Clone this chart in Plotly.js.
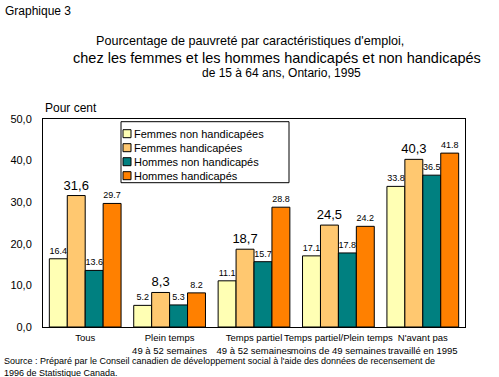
<!DOCTYPE html>
<html>
<head>
<meta charset="utf-8">
<script src="https://cdn.plot.ly/plotly-3.0.1.min.js"></script>
<style>body{margin:0;background:#fff}#chart{width:499px;height:377px}</style>
</head>
<body>
<div id="chart"></div>
<script>
const categories = ["Tous", "Plein temps<br>49 à 52 semaines", "Temps partiel<br>49 à 52 semaines", "Temps partiel/Plein temps<br>moins de 49 semaines", "N'avant pas<br>travaillé en 1995"];
const seriesNames = ["Femmes non handicapées", "Femmes handicapées", "Hommes non handicapés", "Hommes handicapés"];
const femmesNonHand = [16.4, 5.2, 11.1, 17.1, 33.8];
const femmesHand = [31.6, 8.3, 18.7, 24.5, 40.3];
const hommesNonHand = [13.6, 5.3, 15.7, 17.8, 36.5];
const hommesHand = [29.7, 8.2, 28.8, 24.2, 41.8];
const labelsFNH = ["16.4", "5.2", "11.1", "17.1", "33.8"];
const labelsFH = ["31,6", "8,3", "18,7", "24,5", "40,3"];
const labelsHNH = ["13.6", "5.3", "15.7", "17.8", "36.5"];
const labelsHH = ["29.7", "8.2", "28.8", "24.2", "41.8"];
const colors = ["#FFFFB4", "#FFC870", "#008080", "#FF8000"];

const values = [femmesNonHand, femmesHand, hommesNonHand, hommesHand];
const labels = [labelsFNH, labelsFH, labelsHNH, labelsHH];
const labelSizes = [9, 13, 9, 9];
const font = 'Liberation Sans, Arial, sans-serif';

const data = values.map((v, i) => ({
  type: 'bar',
  name: seriesNames[i],
  x: categories,
  y: v,
  text: labels[i],
  textposition: 'outside',
  constraintext: 'none',
  cliponaxis: false,
  textfont: {family: font, size: labelSizes[i], color: '#000'},
  marker: {color: colors[i], line: {color: '#000', width: 1}},
  hoverinfo: 'none',
  showlegend: false
}));

// pixel -> paper helpers for decorations
const L = 43, W = 422, B = 327.3, H = 208;
const px = x => (x - L) / W;
const py = y => (B - y) / H;

const shapes = [
  {type: 'rect', xref: 'paper', yref: 'paper', x0: px(121), x1: px(289), y0: py(122), y1: py(183), line: {color: '#000', width: 1}, fillcolor: '#fff', layer: 'above'}
];
const annotations = [
  {text: 'Graphique 3', xref: 'paper', yref: 'paper', x: px(3), y: py(11), xanchor: 'left', yanchor: 'middle', showarrow: false, font: {size: 12, family: font}},
  {text: "Pourcentage de pauvreté par caractéristiques d'emploi,", xref: 'paper', yref: 'paper', x: px(250), y: py(41), xanchor: 'center', yanchor: 'middle', showarrow: false, font: {size: 12.6, family: font}},
  {text: "chez les femmes et les hommes handicapés et non handicapés", xref: 'paper', yref: 'paper', x: px(277), y: py(58), xanchor: 'center', yanchor: 'middle', showarrow: false, font: {size: 14.5, family: font}},
  {text: "de 15 à 64 ans, Ontario, 1995", xref: 'paper', yref: 'paper', x: px(281), y: py(73), xanchor: 'center', yanchor: 'middle', showarrow: false, font: {size: 12, family: font}},
  {text: 'Pour cent', xref: 'paper', yref: 'paper', x: 0, y: py(108), xanchor: 'left', yanchor: 'middle', showarrow: false, font: {size: 12, family: font}},
  {text: "Source : Préparé par le Conseil canadien de développement social à l'aide des données de recensement de<br>1996 de Statistique Canada.", xref: 'paper', yref: 'paper', x: px(2), y: py(367), xanchor: 'left', yanchor: 'middle', align: 'left', showarrow: false, font: {size: 9, family: font}}
];
const legendY = [134, 148, 162, 176];
seriesNames.forEach((name, i) => {
  shapes.push({type: 'rect', xref: 'paper', yref: 'paper', x0: px(123), x1: px(131), y0: py(legendY[i] + 4), y1: py(legendY[i] - 4), line: {color: '#000', width: 1}, fillcolor: colors[i], layer: 'above'});
  annotations.push({text: name, xref: 'paper', yref: 'paper', x: px(132), y: py(legendY[i]), xanchor: 'left', yanchor: 'middle', showarrow: false, font: {size: 11, family: font}});
});

const layout = {
  width: 499, height: 377,
  margin: {l: L, r: 499 - L - W, t: 119, b: 377 - 119 - H, pad: 0},
  paper_bgcolor: '#fff', plot_bgcolor: '#fff',
  separators: ', ',
  barmode: 'group', bargap: 0.15, bargroupgap: 0,
  showlegend: false,
  font: {family: font, color: '#000'},
  xaxis: {
    type: 'category', showline: true, linecolor: '#000', linewidth: 1, mirror: true, tickangle: 0,
    ticks: '', ticklabelstandoff: 2, tickfont: {size: 9.5, family: font}, showgrid: false, zeroline: false, fixedrange: true
  },
  yaxis: {
    range: [0, 50], dtick: 10, tickformat: '.1f', showline: true, linecolor: '#000', linewidth: 1, mirror: true,
    ticks: '', ticklabelstandoff: 8, tickfont: {size: 11, family: font}, showgrid: false, zeroline: false, fixedrange: true
  },
  shapes: shapes,
  annotations: annotations
};

Plotly.newPlot('chart', data, layout, {displayModeBar: false, staticPlot: true});
</script>
</body>
</html>
